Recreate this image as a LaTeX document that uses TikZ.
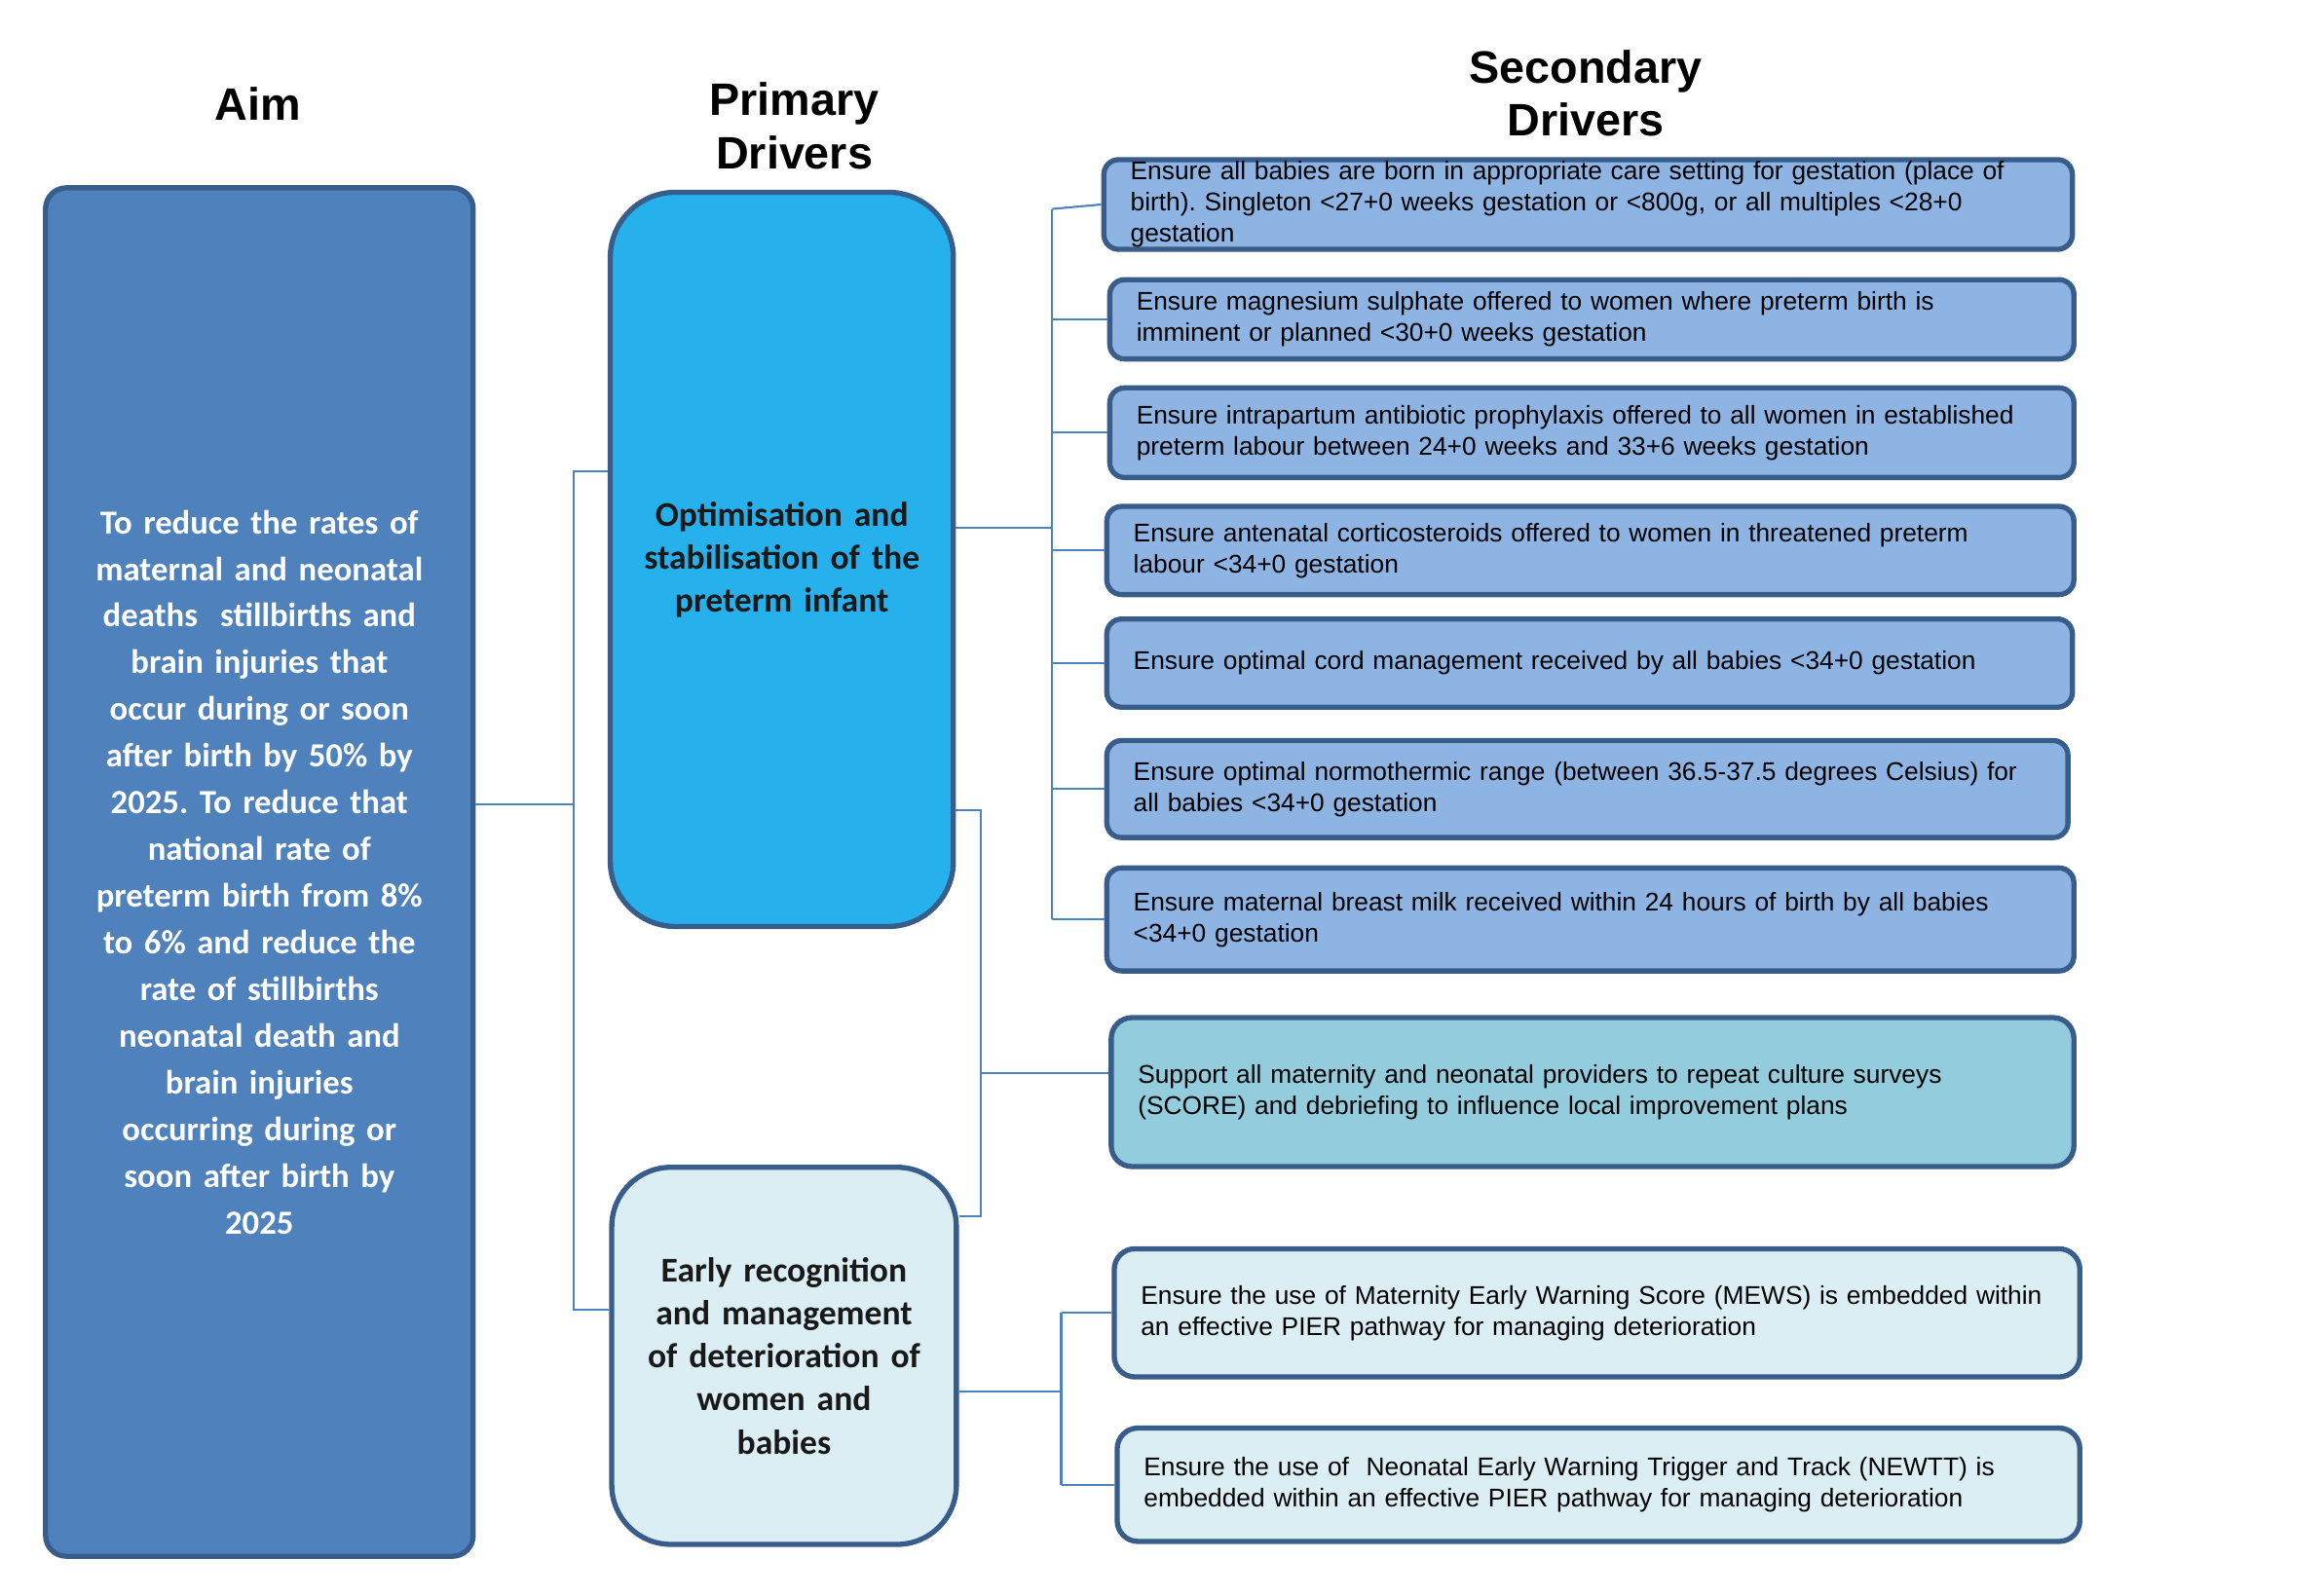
\documentclass[tikz,border=0pt]{standalone}
\usepackage{fontspec}
\setmainfont{Liberation Sans}
\newfontfamily\calib{Carlito}
\definecolor{bordc}{RGB}{56,93,138}
\definecolor{aimfill}{RGB}{79,129,189}
\definecolor{pfill}{RGB}{38,176,236}
\definecolor{lightfill}{RGB}{219,238,244}
\definecolor{secfill}{RGB}{142,180,227}
\definecolor{scorefill}{RGB}{147,205,221}
\definecolor{linec}{RGB}{79,129,189}
\frenchspacing
\begin{document}
\begin{tikzpicture}[x=1pt,y=-1pt,
  boxbase/.style={draw=bordc, line width=3.5pt, inner sep=0pt},
  aimbox/.style={boxbase, fill=aimfill, rounded corners=14pt, text=white, align=center,
     font=\calib\bfseries\fontsize{22.8}{31.5}\selectfont},
  primbox/.style={boxbase, rounded corners=44pt, align=center, text=black!90,
     font=\calib\bfseries\fontsize{23.4}{29}\selectfont},
  secbox/.style={boxbase, fill=secfill, rounded corners=10pt, align=left, inner xsep=18pt,
     font=\fontsize{17.3}{21}\selectfont},
  heading/.style={align=center, font=\bfseries\fontsize{30.7}{36}\selectfont},
  conn/.style={draw=linec, line width=1.4pt}
]
\useasboundingbox (0,0) rectangle (1568,1077);

% headings
\node[heading] (haim) at (174,70) {Aim};
\node[heading] (hprim) at (536,85) {Primary\\Drivers};
\node[heading] (hsec) at (1070,63) {Secondary\\Drivers};

% aim
\node[aimbox, minimum width=288.5pt, minimum height=923.5pt, text width=275pt] (aim) at (175,588.5)
 {To reduce the rates of\\maternal and neonatal\\deaths\ \ stillbirths and\\brain injuries that\\occur during or soon\\after birth by 50\% by\\2025. To reduce that\\national rate of\\preterm birth from 8\%\\to 6\% and reduce the\\rate of stillbirths\\neonatal death and\\brain injuries\\occurring during or\\soon after birth by\\2025};

% primary drivers
\node[primbox, fill=pfill, rounded corners=44pt, minimum width=231.5pt, minimum height=495.5pt, text width=225pt] (p1) at (527.5,377.5)
 {Optimisation and\\stabilisation of the\\preterm infant};
\node[primbox, fill=lightfill, rounded corners=40pt, minimum width=232.5pt, minimum height=254.5pt, text width=225pt] (p2) at (529,915)
 {Early recognition\\and management\\of deterioration of\\women and\\babies};

% secondary drivers
\node[secbox, minimum width=653.5pt, minimum height=60.5pt, text width=617.5pt] (s1) at (1071.5,138)
 {Ensure all babies are born in appropriate care setting for gestation (place of\\birth). Singleton <27+0 weeks gestation or <800g, or all multiples <28+0\\gestation};
\node[secbox, minimum width=650.5pt, minimum height=53.5pt, text width=614.5pt] (s2) at (1074,215.5)
 {Ensure magnesium sulphate offered to women where preterm birth is\\imminent or planned <30+0 weeks gestation};
\node[secbox, minimum width=650.5pt, minimum height=60.5pt, text width=614.5pt] (s3) at (1074,292)
 {Ensure intrapartum antibiotic prophylaxis offered to all women in established\\preterm labour between 24+0 weeks and 33+6 weeks gestation};
\node[secbox, minimum width=652.5pt, minimum height=59.5pt, text width=616.5pt] (s4) at (1073,371.5)
 {Ensure antenatal corticosteroids offered to women in threatened preterm\\labour <34+0 gestation};
\node[secbox, minimum width=651.5pt, minimum height=59.5pt, text width=615.5pt] (s5) at (1072.5,447.5)
 {Ensure optimal cord management received by all babies <34+0 gestation};
\node[secbox, minimum width=648.5pt, minimum height=65.5pt, text width=612.5pt] (s6) at (1071,532.5)
 {Ensure optimal normothermic range (between 36.5-37.5 degrees Celsius) for\\all babies <34+0 gestation};
\node[secbox, minimum width=652.5pt, minimum height=69.5pt, text width=616.5pt] (s7) at (1073,620.5)
 {Ensure maternal breast milk received within 24 hours of birth by all babies\\<34+0 gestation};
\node[secbox, fill=scorefill, rounded corners=14pt, minimum width=649.5pt, minimum height=100.5pt, text width=613.5pt] (s8) at (1074.5,737)
 {Support all maternity and neonatal providers to repeat culture surveys\\(SCORE) and debriefing to influence local improvement plans};
\node[secbox, fill=lightfill, rounded corners=14pt, minimum width=651.5pt, minimum height=86.5pt, text width=615.5pt] (s9) at (1077.5,886)
 {Ensure the use of Maternity Early Warning Score (MEWS) is embedded within\\an effective PIER pathway for managing deterioration};
\node[secbox, fill=lightfill, rounded corners=14pt, minimum width=649.5pt, minimum height=76.5pt, text width=613.5pt] (s10) at (1078.5,1002)
 {Ensure the use of\ \ Neonatal Early Warning Trigger and Track (NEWTT) is\\embedded within an effective PIER pathway for managing deterioration};

% connectors: aim to primary drivers
\coordinate (j0) at (387,543);
\coordinate (j0t) at (387,318);
\coordinate (j0b) at (387,884);
\draw[conn] (aim.east |- j0) -- (j0);
\draw[conn] (p1.west |- j0t) -- (j0t) -- (j0b) -- (p2.west |- j0b);

% primary 1 to secondary drivers
\coordinate (h1) at (710,356);
\coordinate (h1t) at (710,141);
\draw[conn] (p1.east |- h1) -- (h1);
\draw[conn] (h1t) -- (h1 |- s7.west);
\draw[conn] (h1t) -- (s1.west);
\foreach \s in {s2,s3,s4,s5,s6,s7} {
  \draw[conn] (h1 |- \s.west) -- (\s.west);
}

% primary 1 and 2 to SCORE
\coordinate (b2t) at (662,547);
\coordinate (b2b) at (662,821);
\coordinate (b2m) at (662,724);
\draw[conn] (p1.east |- b2t) -- (b2t) -- (b2b) -- (p2.east |- b2b);
\draw[conn] (b2m) -- (s8.west |- b2m);

% primary 2 to MEWS / NEWTT
\coordinate (h3) at (716,939);
\draw[conn] (p2.east |- h3) -- (h3);
\draw[conn] (h3 |- s9.west) -- (h3 |- s10.west);
\draw[conn] (h3 |- s9.west) -- (s9.west);
\draw[conn] (h3 |- s10.west) -- (s10.west);
\end{tikzpicture}
\end{document}
